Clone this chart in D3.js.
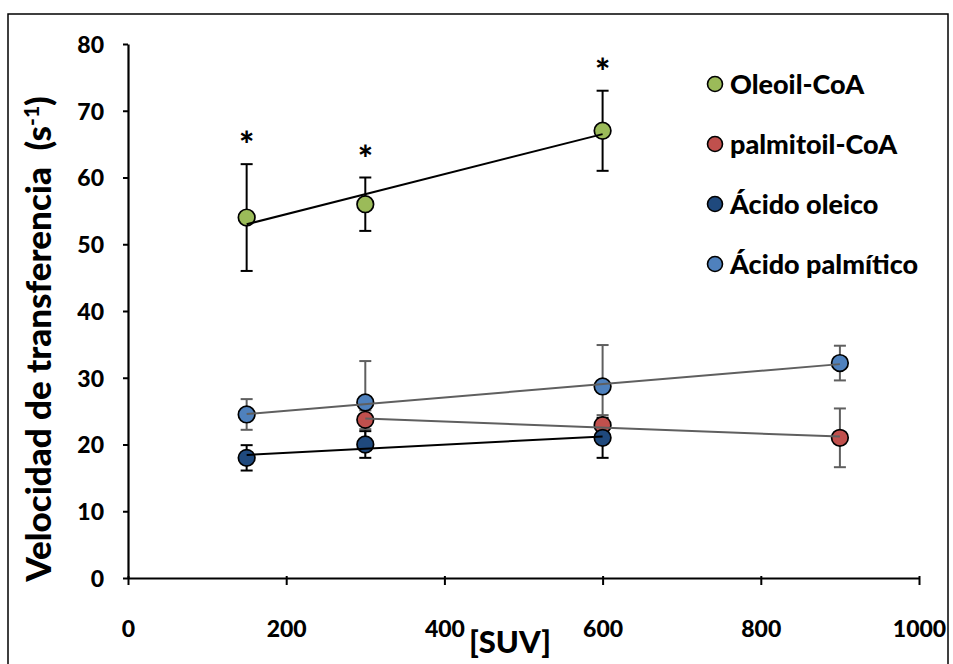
<!DOCTYPE html>
<html><head><meta charset="utf-8">
<script src="https://cdn.jsdelivr.net/npm/d3@7"></script>
<style>
html,body{margin:0;padding:0;background:#fff;}
svg text{font-family:Lato,"Open Sans",sans-serif;font-weight:bold;}
</style></head>
<body><svg id="c" width="953" height="664"></svg>
<script>
// ---- data ----
const xTicks = [0, 200, 400, 600, 800, 1000];
const yTicks = [0, 10, 20, 30, 40, 50, 60, 70, 80];
const seriesNames = ["Oleoil-CoA", "palmitoil-CoA", "Ácido oleico", "Ácido palmítico"];
const seriesColors = ["#9BBB59", "#C0504D", "#1F497D", "#4F81BD"];
const seriesLineColors = ["#000000", "#5f5f5f", "#000000", "#5f5f5f"];
const oleoilX = [150, 300, 600];
const oleoilY = [54, 56, 67];
const oleoilErr = [8, 4, 6];
const palmitoilX = [300, 600, 900];
const palmitoilY = [23.7, 22.9, 21];
const palmitoilErr = [1.4, 1.5, 4.4];
const oleicoX = [150, 300, 600];
const oleicoY = [18, 20, 21];
const oleicoErr = [1.9, 2, 3];
const palmiticoX = [150, 300, 600, 900];
const palmiticoY = [24.5, 26.3, 28.7, 32.2];
const palmiticoErr = [2.3, 6.2, 6.2, 2.6];
const starX = [150, 300, 600];
const xTitle = "[SUV]";
const yTitle = "Velocidad de transferencia\u00a0\u00a0(s";

const series = [
  {x: oleoilX, y: oleoilY, e: oleoilErr},
  {x: palmitoilX, y: palmitoilY, e: palmitoilErr},
  {x: oleicoX, y: oleicoY, e: oleicoErr},
  {x: palmiticoX, y: palmiticoY, e: palmiticoErr}
].map((s, i) => ({...s, name: seriesNames[i], color: seriesColors[i], lc: seriesLineColors[i]}));

const svg = d3.select("#c");
// outer frame
svg.append("rect").attr("x", 8).attr("y", 14).attr("width", 940).attr("height", 700)
  .attr("fill", "none").attr("stroke", "#000").attr("stroke-width", 1.5);

const x = d3.scaleLinear().domain([0, 1000]).range([128, 919]);
const y = d3.scaleLinear().domain([0, 80]).range([578, 44]);

// axes
const xAxis = svg.append("g").attr("transform", `translate(0,${y(0)})`)
  .call(d3.axisBottom(x).tickValues(xTicks).tickFormat(d3.format("d")).tickSize(7).tickPadding(36).tickSizeOuter(0));
const yAxis = svg.append("g").attr("transform", `translate(${x(0)},0)`)
  .call(d3.axisLeft(y).tickValues(yTicks).tickSize(0).tickPadding(24).tickSizeOuter(0));
// y ticks crossing axis
yAxis.selectAll(".tick").append("line").attr("x1", -5).attr("x2", 0).attr("stroke", "#000").attr("stroke-width", 2);
[xAxis, yAxis].forEach(a => {
  a.select(".domain").attr("stroke", "#000").attr("stroke-width", 2.2);
  a.selectAll(".tick line").attr("stroke", "#000").attr("stroke-width", 2);
  a.selectAll("text").attr("font-size", 23).attr("fill", "#000")
    .style("font-family", "Lato, sans-serif").style("font-weight", "900");
});
xAxis.selectAll(".tick line").attr("y1", -2);
yAxis.selectAll("text").attr("dy", "0.36em");

// trendlines (least squares fit of each series)
function fit(xs, ys) {
  const mx = d3.mean(xs), my = d3.mean(ys);
  let sxy = 0, sxx = 0;
  xs.forEach((v, i) => { sxy += (v - mx) * (ys[i] - my); sxx += (v - mx) ** 2; });
  const b = sxy / sxx;
  return v => my + b * (v - mx);
}

const drawOrder = [0, 3, 1, 2];
// error bars
drawOrder.forEach(i => {
  const s = series[i];
  const g = svg.append("g");
  s.x.forEach((xv, j) => {
    const cx = x(xv), top = y(s.y[j] + s.e[j]), bot = y(s.y[j] - s.e[j]);
    g.append("line").attr("x1", cx).attr("x2", cx).attr("y1", top).attr("y2", bot)
      .attr("stroke", s.lc).attr("stroke-width", 2);
    [top, bot].forEach(yy => g.append("line").attr("x1", cx - 6).attr("x2", cx + 6)
      .attr("y1", yy).attr("y2", yy).attr("stroke", s.lc).attr("stroke-width", 2));
  });
});
// markers
drawOrder.forEach(i => {
  const s = series[i];
  svg.append("g").selectAll("circle").data(s.x.map((v, j) => [v, s.y[j]])).join("circle")
    .attr("cx", d => x(d[0])).attr("cy", d => y(d[1])).attr("r", 8.3)
    .attr("fill", s.color).attr("stroke", "#000").attr("stroke-width", 1.7);
});
// trendlines on top
drawOrder.forEach(i => {
  const s = series[i];
  const f = fit(s.x, s.y);
  const x0 = d3.min(s.x), x1 = d3.max(s.x);
  svg.append("line").attr("x1", x(x0)).attr("x2", x(x1)).attr("y1", y(f(x0))).attr("y2", y(f(x1)))
    .attr("stroke", s.lc).attr("stroke-width", 2);
});

// asterisks
starX.forEach((xv, j) => {
  const top = y(oleoilY[j] + oleoilErr[j]);
  svg.append("text").attr("x", x(xv)).attr("y", top - 6).attr("text-anchor", "middle")
    .attr("font-size", 36).style("font-weight", "900").text("*");
});

// legend
seriesNames.forEach((n, i) => {
  const ly = 84 + i * 60;
  svg.append("circle").attr("cx", 715).attr("cy", ly).attr("r", 7.5)
    .attr("fill", seriesColors[i]).attr("stroke", "#000").attr("stroke-width", 1.6);
  svg.append("text").attr("x", 730).attr("y", ly).attr("dy", "0.36em")
    .attr("font-size", 27).style("font-weight", "900").text(n);
});

// axis titles
svg.append("text").attr("x", 510).attr("y", 653).attr("text-anchor", "middle")
  .attr("font-size", 31).style("font-weight", "900").text(xTitle);
const yt = svg.append("text").attr("transform", "translate(51,339) rotate(-90)")
  .attr("text-anchor", "middle").attr("font-size", 35).style("font-weight", "900");
yt.append("tspan").text(yTitle);
yt.append("tspan").attr("dy", -12).attr("font-size", 21).text("-1");
yt.append("tspan").attr("dy", 12).text(")");
</script></body></html>
